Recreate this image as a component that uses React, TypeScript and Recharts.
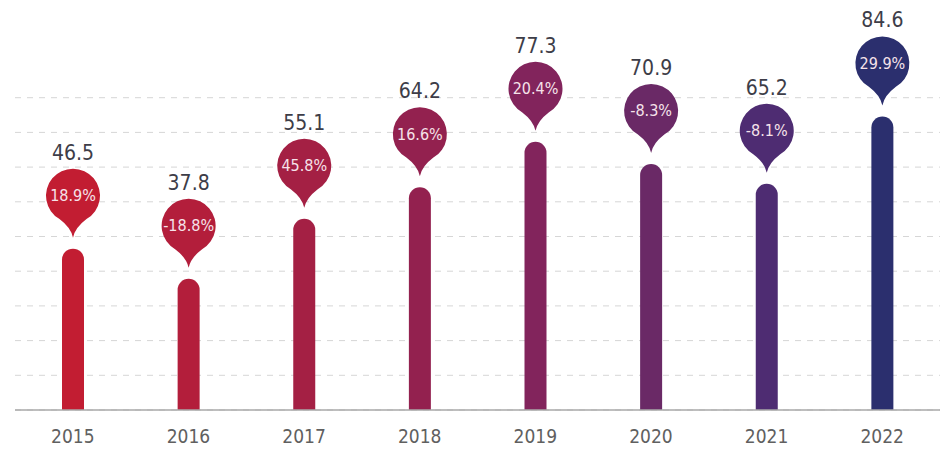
import { Bar, BarChart, CartesianGrid, Cell, XAxis, YAxis } from "recharts";

const years = ["2015", "2016", "2017", "2018", "2019", "2020", "2021", "2022"];
const values = [46.5, 37.8, 55.1, 64.2, 77.3, 70.9, 65.2, 84.6];
const growth = ["18.9%", "-18.8%", "45.8%", "16.6%", "20.4%", "-8.3%", "-8.1%", "29.9%"];
const colors = ["#c21d32", "#b31e3b", "#a42044", "#93214f", "#82245c", "#6a2966", "#4e2c72", "#2b2f6e"];
const yTicks = [0, 10, 20, 30, 40, 50, 60, 70, 80, 90];

const FONT = "'DejaVu Sans Condensed', 'Liberation Sans Narrow', 'Open Sans', sans-serif";

const rows = years.map((year, i) => ({ year, value: values[i], growth: growth[i] }));

// pin-shaped balloon sitting above each bar, with the value printed on top
function Balloon(props: any) {
  const { x, y, width, value } = props;
  let index = props.index;
  if (index === undefined) index = values.indexOf(value);
  const cx = x + width / 2;
  const cy = y - 53;
  const r = 27;
  const tip = y - 11;
  const px = r * Math.sin(Math.PI / 6);
  const py = r * Math.cos(Math.PI / 6);
  const d =
    `M ${cx - px} ${cy + py} ` +
    `Q ${cx - 2} ${cy + r + 5} ${cx} ${tip} ` +
    `Q ${cx + 2} ${cy + r + 5} ${cx + px} ${cy + py} ` +
    `A ${r} ${r} 0 1 0 ${cx - px} ${cy + py} Z`;
  const color = colors[index % colors.length];
  return (
    <g>
      <path d={d} fill={color} />
      <text
        x={cx}
        y={cy}
        textAnchor="middle"
        dominantBaseline="central"
        fill="#f6e3ea"
        fontSize={16}
        fontFamily={FONT}
      >
        {growth[index]}
      </text>
      <text
        x={cx}
        y={cy - 43}
        textAnchor="middle"
        dominantBaseline="central"
        fill="#3d3d48"
        fontSize={21}
        fontFamily={FONT}
      >
        {value}
      </text>
    </g>
  );
}

export default function App() {
  return (
    <div style={{ position: "absolute", left: 0, top: 0, background: "#fff" }}>
      <BarChart
        width={950}
        height={450}
        data={rows}
        margin={{ top: 63, right: 10, bottom: 0, left: 15 }}
      >
        <CartesianGrid
          vertical={false}
          horizontalValues={yTicks}
          stroke="#d6d6d6"
          strokeDasharray="6 6"
        />
        <YAxis hide domain={[0, 100]} ticks={yTicks} />
        <XAxis
          dataKey="year"
          height={40}
          stroke="#a8a8a8"
          strokeWidth={1.5}
          tickLine={false}
          tick={{ fill: "#606060", fontSize: 19, fontFamily: FONT }}
          tickMargin={14}
        />
        <Bar
          dataKey="value"
          barSize={22}
          radius={[11, 11, 0, 0]}
          isAnimationActive={false}
          label={Balloon}
        >
          {rows.map((row, i) => (
            <Cell key={row.year} fill={colors[i]} />
          ))}
        </Bar>
      </BarChart>
    </div>
  );
}
